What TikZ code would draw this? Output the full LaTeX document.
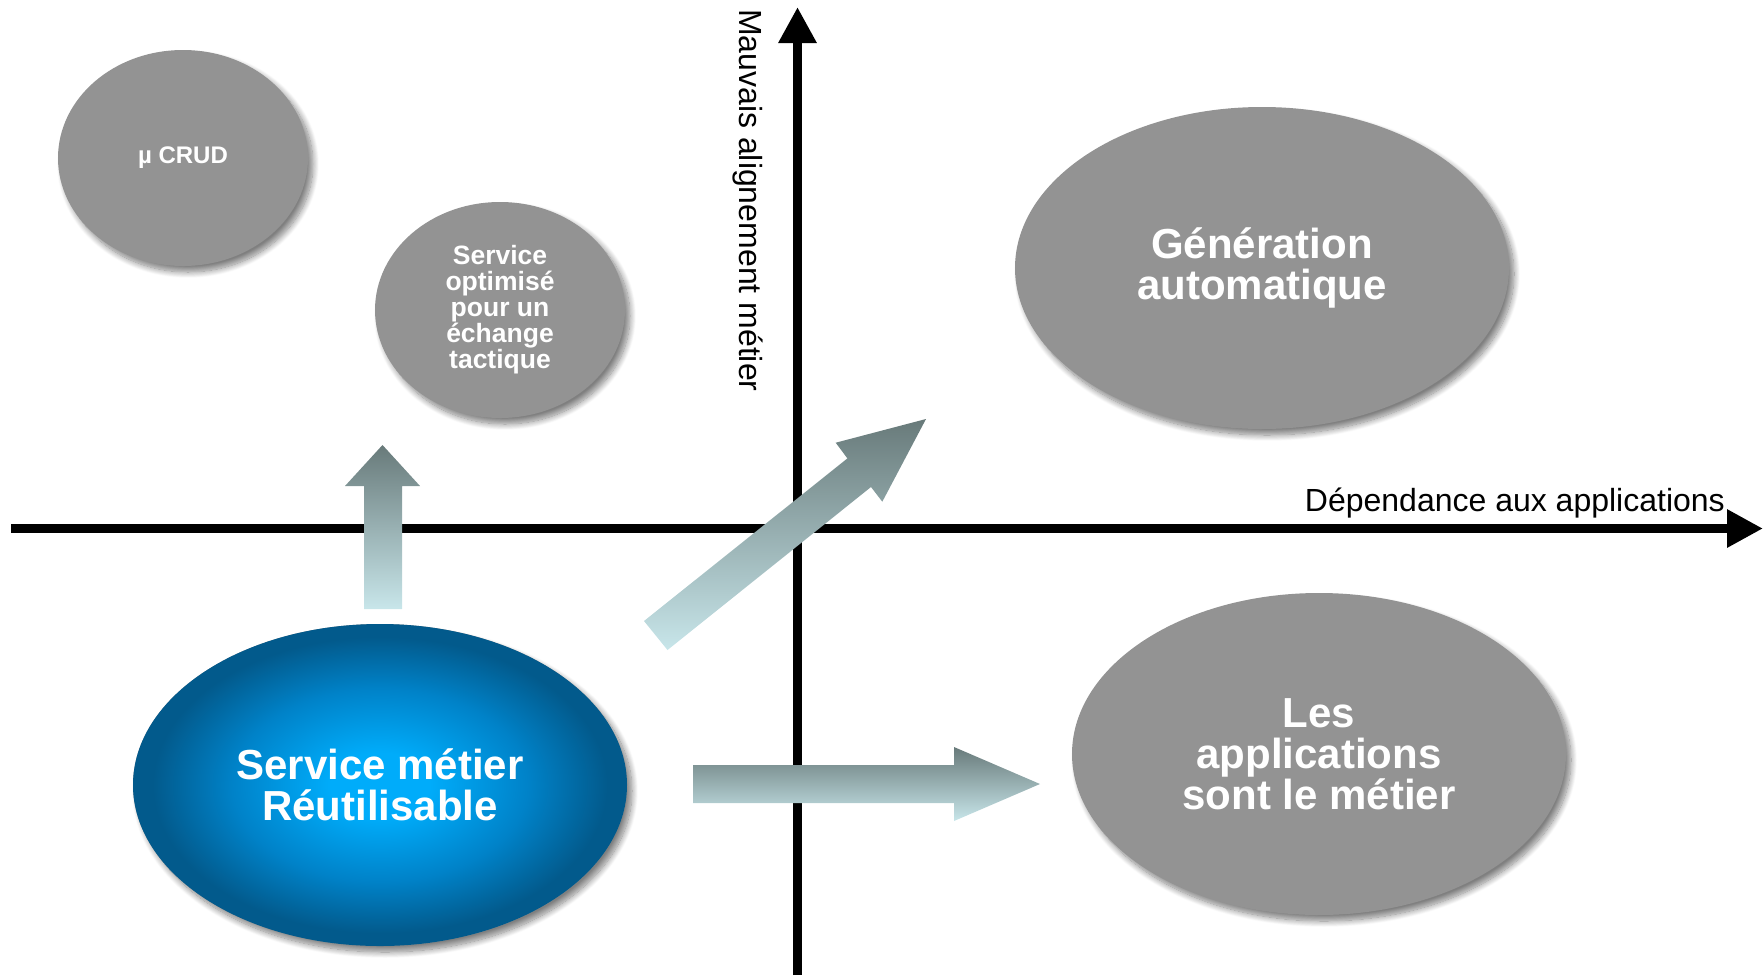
\documentclass[tikz,border=0pt]{standalone}
\usepackage{fontspec}
\setmainfont{Liberation Sans}
\usetikzlibrary{shapes.geometric,shadows.blur,arrows.meta}
\definecolor{ellgrey}{RGB}{147,147,147}
\definecolor{arrdark}{RGB}{104,122,122}
\definecolor{arrlight}{RGB}{200,230,234}
\definecolor{bluein}{RGB}{0,172,250}
\definecolor{bluemid}{RGB}{0,130,200}
\definecolor{blueout}{RGB}{2,90,140}
\pgfdeclareradialshading{bluegrad}{\pgfpoint{0bp}{0bp}}{color(0bp)=(bluein); color(5bp)=(bluein); color(15bp)=(bluemid); color(23bp)=(blueout); color(25bp)=(blueout); color(50bp)=(blueout)}
\tikzset{
  ell/.style={ellipse, inner sep=0pt, outer sep=0pt, text=white, align=center,
    blur shadow={shadow xshift=5pt, shadow yshift=-6pt, shadow blur radius=6pt, shadow blur steps=12, shadow opacity=50}},
  smallell/.style={ell, fill=ellgrey, minimum width=250pt, minimum height=216pt},
  bigell/.style={ell, fill=ellgrey, minimum width=494pt, minimum height=322pt,
    font=\bfseries\fontsize{42}{41}\selectfont},
  blueell/.style={bigell, shading=bluegrad},
  blockarrow/.style={top color=arrdark, bottom color=arrlight, draw=none},
  axisline/.style={line width=9pt, -{Triangle[length=36pt,width=36pt]}},
  axislabel/.style={font=\fontsize{32}{36}\selectfont, inner sep=0pt}
}
\begin{document}
\begin{tikzpicture}[x=1pt,y=-1pt]
\useasboundingbox (0,0) rectangle (1763,975);
% axes
\coordinate (xs) at (11,528.5);
\coordinate (xe) at (1763,528.5);
\coordinate (ys) at (797.5,975);
\coordinate (ye) at (797.5,7);
\draw[axisline] (xs) -- (xe);
\draw[axisline] (ys) -- (ye);
\node[axislabel, anchor=base east] (xlab) at (1725,511) {Dépendance aux applications};
\node[axislabel, rotate=-90, anchor=base west] (ylab) at (739,9) {Mauvais alignement métier};
% ellipses
\node[smallell, font=\bfseries\fontsize{24}{26}\selectfont] (crud) at (183,158) {µ CRUD};
\node[smallell, font=\bfseries\fontsize{26.5}{26}\selectfont] (opt) at (500,310) {Service\\optimisé\\pour un\\échange\\tactique};
\node[bigell] (gen) at (1262,268) {Génération\\automatique};
\node[bigell] (app) at (1319,754) {Les\\applications\\sont le métier};
\node[blueell] (smr) at (380,785) {Service métier\\Réutilisable};
% block arrows
\shade[blockarrow] (364,609) -- (364,486) -- (345,486) -- (382.5,445) -- (420,486) -- (402,486) -- (402,609) -- cycle;
\shade[blockarrow] (644,621) -- (847.4,458.4) -- (835.7,442.7) -- (926,419) -- (882.3,501.7) -- (871,487) -- (667.5,650) -- cycle;
\shade[blockarrow] (693,765) -- (954,765) -- (954,747) -- (1040,784) -- (954,821) -- (954,803) -- (693,803) -- cycle;
\end{tikzpicture}
\end{document}
